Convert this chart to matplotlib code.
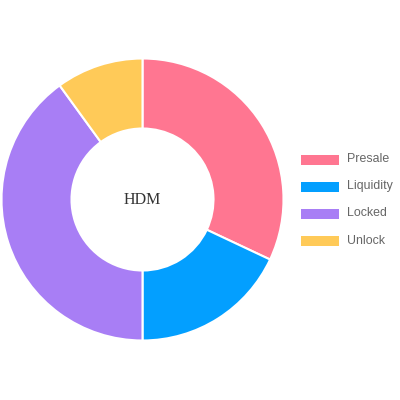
import matplotlib
matplotlib.use('Agg')
import matplotlib.pyplot as plt
from matplotlib.patches import Rectangle

labels = ['Presale', 'Liquidity', 'Locked', 'Unlock']
values = [32, 18, 40, 10]
colors = ['#FF7691', '#039FFF', '#A87EF5', '#FFCA58']
center_label = 'HDM'

fig = plt.figure(figsize=(4, 4), dpi=100)
ax = fig.add_axes([0, 0, 1, 1])

# donut, starts at 12 o'clock and goes clockwise like chart.js
ax.pie(values, colors=colors, startangle=90, counterclock=False,
       center=(142.5, 200.5), radius=141, frame=True,
       wedgeprops=dict(width=70, edgecolor='white', linewidth=1.5))
ax.set_xlim(0, 400)
ax.set_ylim(0, 400)
ax.set_aspect('equal')
ax.axis('off')

ax.text(142.5, 200.5, center_label, ha='center', va='center',
        fontsize=11.5, family='Liberation Serif', color='#333333')

# legend on the right
for i, (lab, col) in enumerate(zip(labels, colors)):
    y = 400 - (159.5 + i * 27)
    ax.add_patch(Rectangle((301, y - 5), 38, 10, facecolor=col, edgecolor='none'))
    ax.text(346.5, y, lab, ha='left', va='center', fontsize=8.9,
            family='Liberation Sans', color='#666666')

fig.savefig('out.png', dpi=100, facecolor='white')
